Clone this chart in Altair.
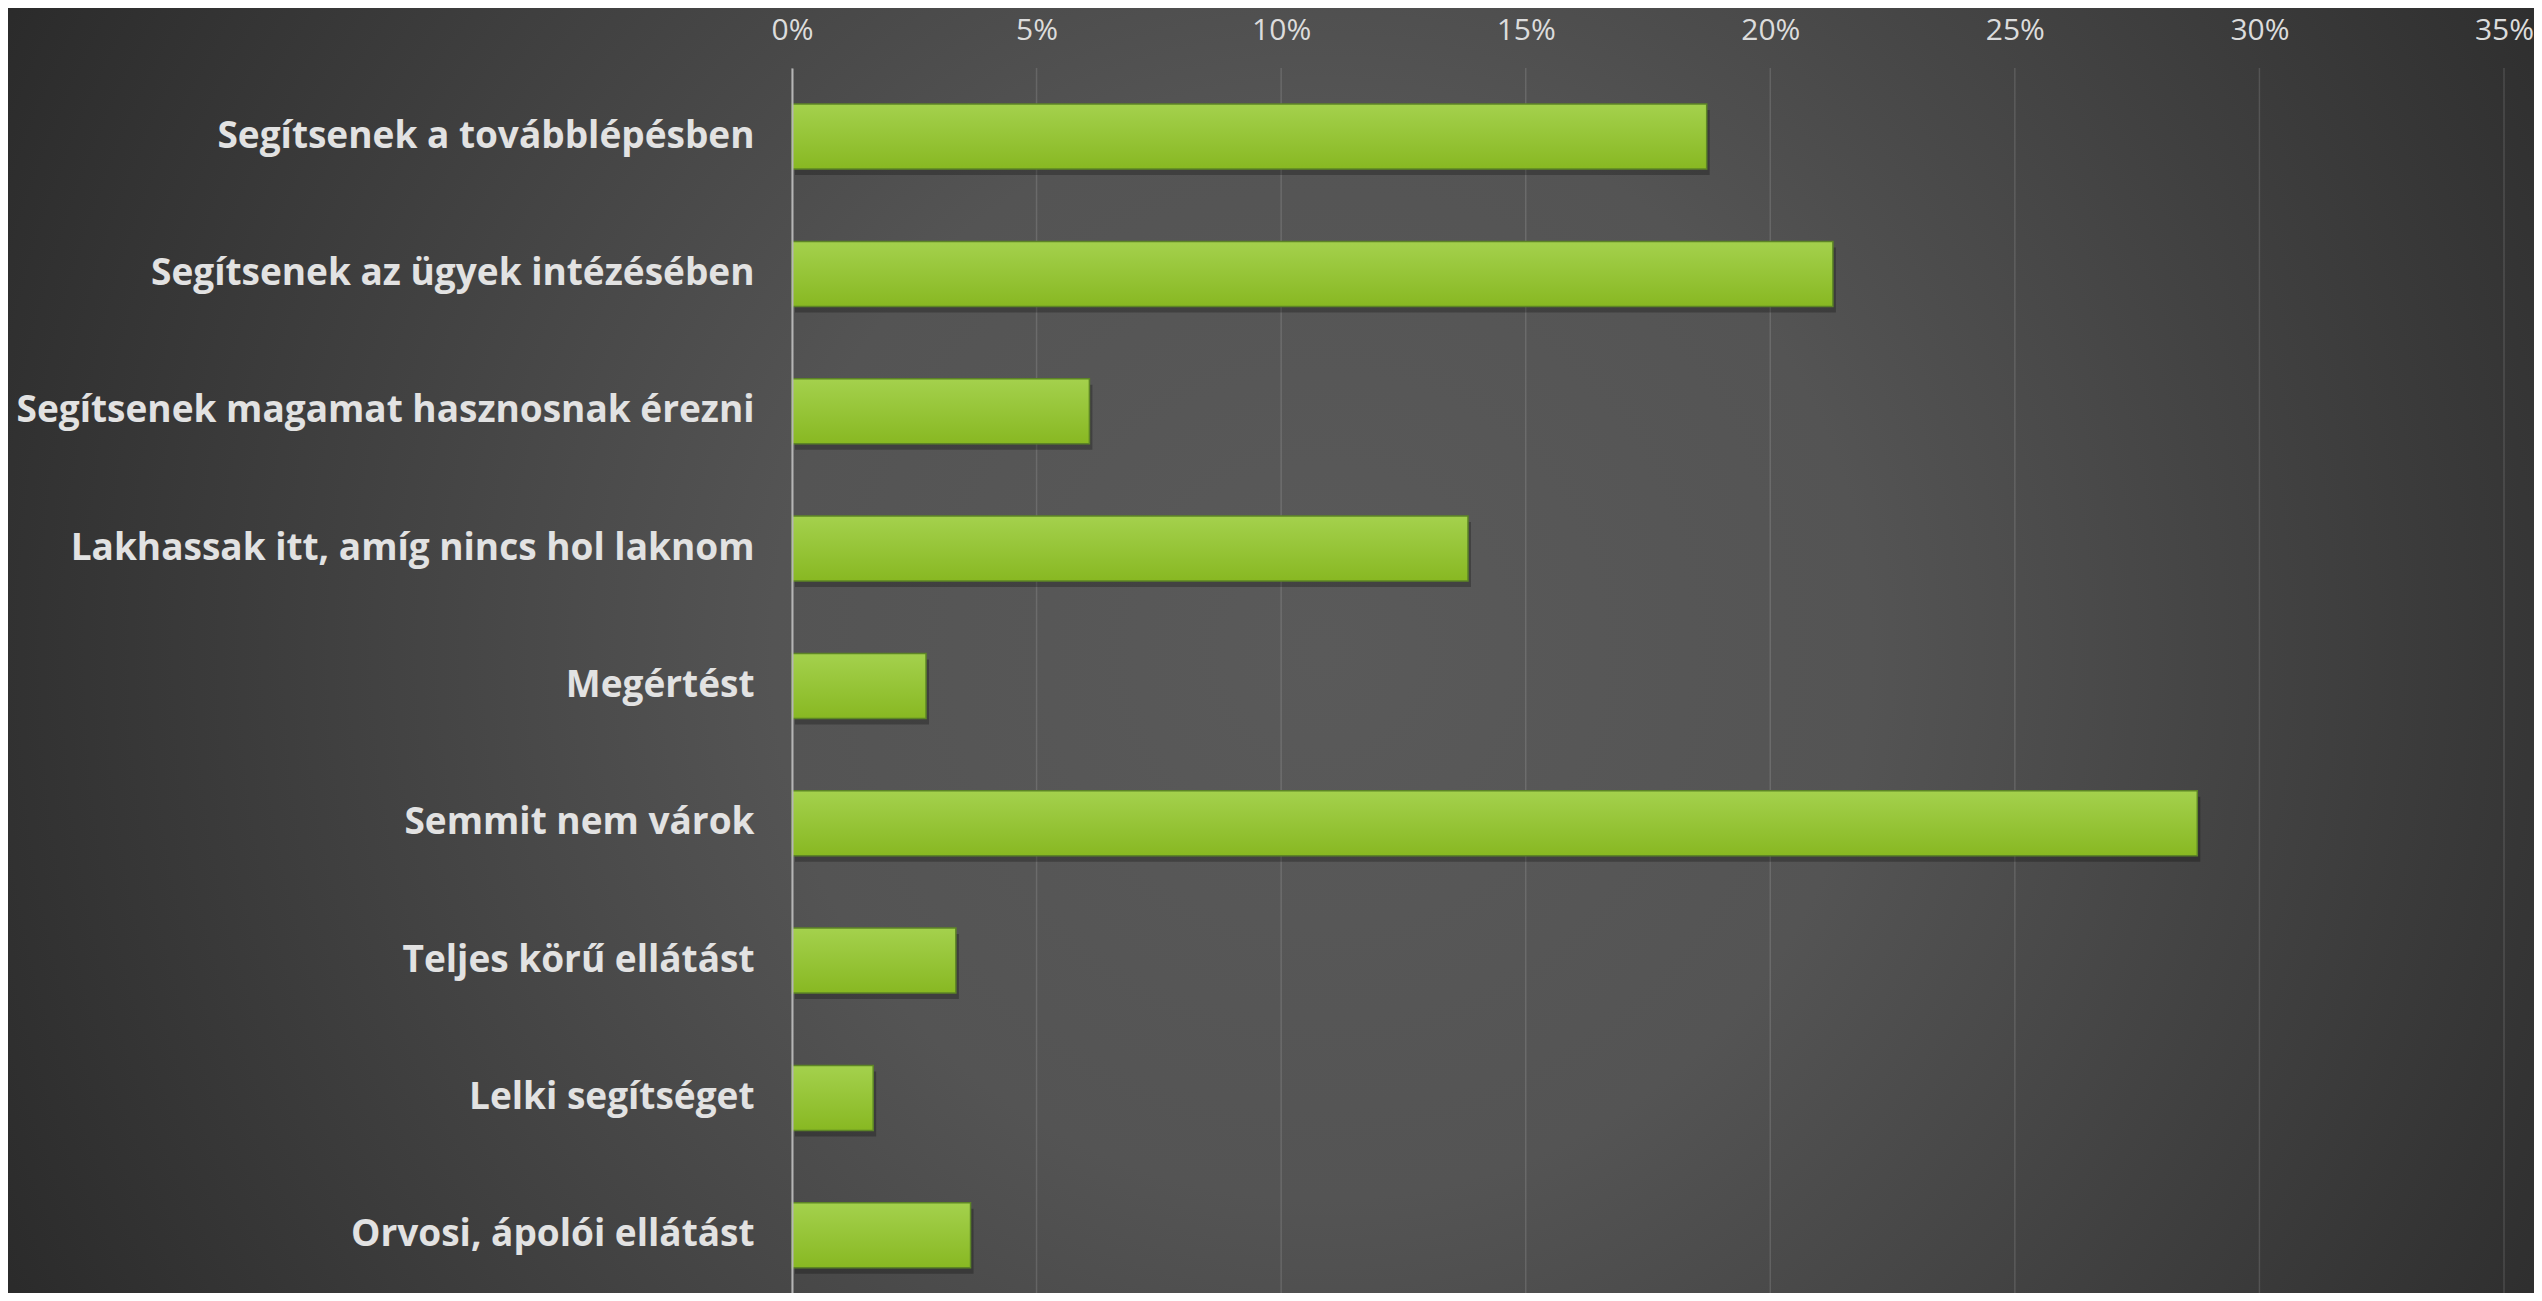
import altair as alt
import pandas as pd

categories = [
    "Segítsenek a továbblépésben",
    "Segítsenek az ügyek intézésében",
    "Segítsenek magamat hasznosnak érezni",
    "Lakhassak itt, amíg nincs hol laknom",
    "Megértést",
    "Semmit nem várok",
    "Teljes körű ellátást",
    "Lelki segítséget",
    "Orvosi, ápolói ellátást",
]
values = [0.1870, 0.2128, 0.0608, 0.1382, 0.0274, 0.2873, 0.0335, 0.0166, 0.0365]
x_ticks = [0.0, 0.05, 0.10, 0.15, 0.20, 0.25, 0.30, 0.35]

df = pd.DataFrame({"cat": categories, "val": values})
df_ticks = pd.DataFrame({"val": x_ticks})

W, H = 1712, 1225
PL, PT, PR = 784, 60, 30

bg = alt.Chart(pd.DataFrame({"k": [0]})).mark_rect(
    fill=alt.RadialGradient(
        gradient="radial",
        stops=[
            alt.GradientStop(offset=0, color="#5a5a5a"),
            alt.GradientStop(offset=0.35, color="#545454"),
            alt.GradientStop(offset=1, color="#262626"),
        ],
        x1=0.52, y1=0.5, r1=0, x2=0.52, y2=0.5, r2=0.62,
    )
).encode(
    x=alt.value(-PL), x2=alt.value(W + PR), y=alt.value(-PT), y2=alt.value(H)
)

grid = alt.Chart(df_ticks).mark_rule(color="#ffffff", opacity=0.13, strokeWidth=1.5).encode(
    x=alt.X("val:Q"),
    y=alt.value(0),
    y2=alt.value(H),
)

x_enc = alt.X(
    "val:Q",
    scale=alt.Scale(domain=[0, 0.35], nice=False, zero=True),
    axis=alt.Axis(
        orient="top", values=x_ticks, format=".0%", title=None,
        labelFont="Open Sans", labelFontSize=30, labelColor="#dcdcdc",
        labelPadding=23, ticks=False, tickSize=0, domain=False, grid=False,
        labelFlush=False, zindex=1,
    ),
)
y_enc = alt.Y(
    "cat:N", sort=categories,
    scale=alt.Scale(paddingInner=0.16, paddingOuter=0.0395, align=1),
    axis=alt.Axis(
        title=None, labelFont="Open Sans", labelFontWeight="bold",
        labelFontSize=37, labelColor="#e2e2e2", labelPadding=38,
        ticks=False, tickSize=0, domainColor="#b5b5b5", domainWidth=2,
        labelLimit=900, grid=False, zindex=1,
    ),
)

shadow = alt.Chart(df).mark_bar(
    color="#000000", opacity=0.25, size=65, yOffset=6, xOffset=3
).encode(x=x_enc, y=y_enc)

bars = alt.Chart(df).mark_bar(
    size=65,
    fill=alt.LinearGradient(
        gradient="linear",
        stops=[
            alt.GradientStop(offset=0, color="#a4d14d"),
            alt.GradientStop(offset=1, color="#88b822"),
        ],
        x1=0, x2=0, y1=0, y2=1,
    ),
    stroke="#5d8526",
    strokeWidth=1.5,
).encode(x=x_enc, y=y_enc)

chart = alt.layer(bg, grid, shadow, bars).properties(
    width=W, height=H,
    padding={"left": PL, "top": PT, "right": PR, "bottom": 0},
    autosize=alt.AutoSizeParams(type="none"),
    background="#262626",
).configure_view(stroke=None)

chart.save("out.html", embed_options={"renderer": "svg", "actions": False})
